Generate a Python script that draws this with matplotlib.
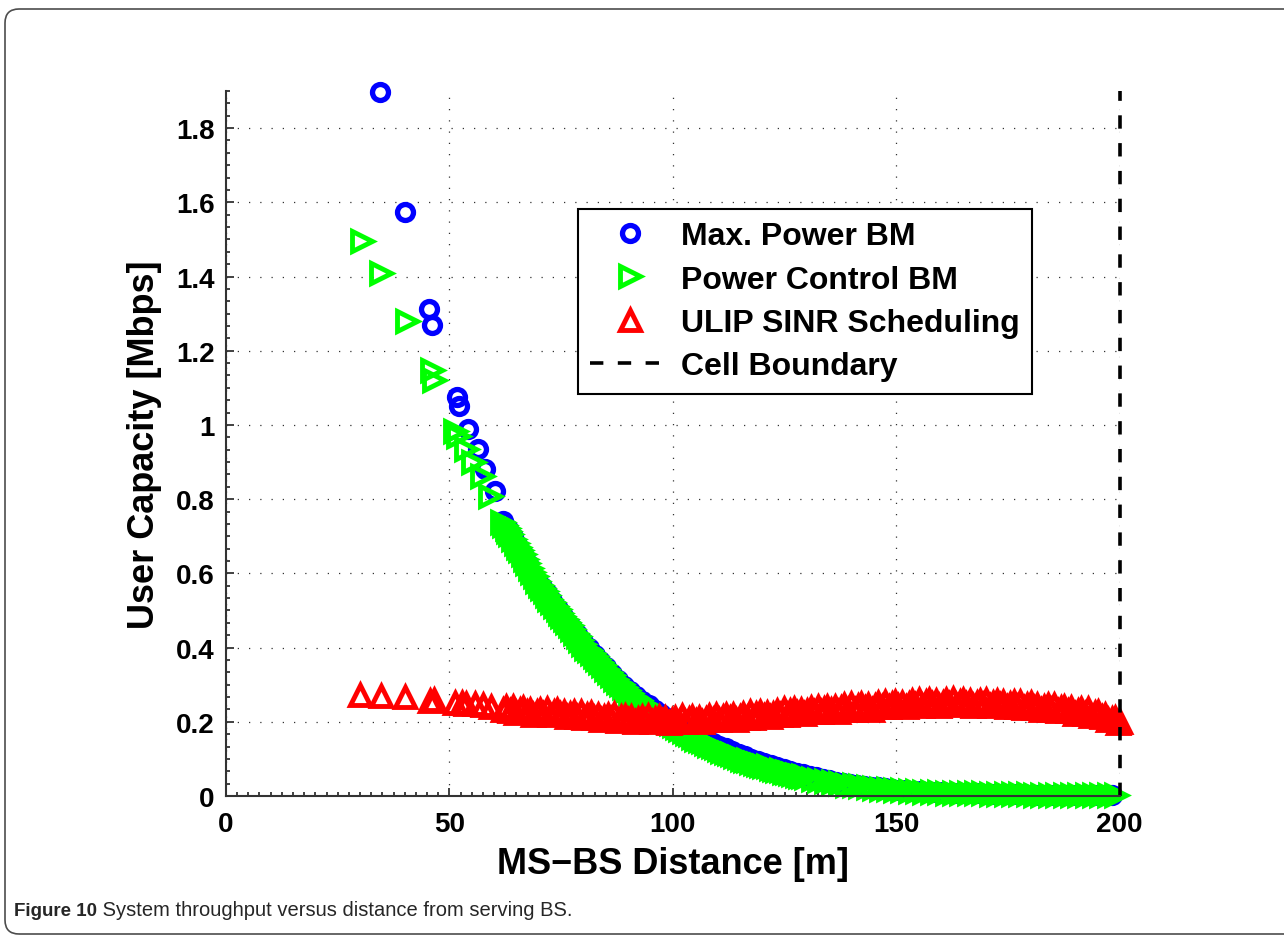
import matplotlib
matplotlib.use('Agg')
import matplotlib.pyplot as plt
import matplotlib.patches as mpatches
from matplotlib.ticker import MultipleLocator

# Max. Power BM (blue circles)
dist_mp = [34.5, 40.0, 45.5, 46.2, 51.6, 52.2, 54.2, 56.4, 57.9, 60.2,
           62.0, 63.1, 64.3, 65.2, 66.4, 67.5, 68.4, 69.6, 70.8, 71.9,
           72.9, 74.2, 75.4, 76.6, 77.5, 78.6, 79.9, 81.2, 82.5, 83.7,
           85.0, 86.4, 87.8, 89.1, 90.5, 91.8, 93.2, 94.6, 96.0, 97.3,
           98.7, 100.2, 101.6, 103.1, 104.5, 106.0, 107.4, 108.9, 110.3, 111.8,
           113.2, 114.7, 116.1, 117.6, 119.0, 120.5, 121.9, 123.4, 124.8, 126.3,
           127.7, 129.2, 130.6, 132.1, 133.5, 135.0, 136.6, 138.1, 139.7, 141.2,
           142.8, 144.3, 145.9, 147.4, 149.0, 150.6, 152.2, 153.9, 155.5, 157.2,
           158.8, 160.5, 162.1, 163.8, 165.4, 167.1, 168.7, 170.4, 172.0, 173.7,
           175.3, 177.0, 178.6, 180.3, 181.9, 183.6, 185.2, 186.9, 188.5, 190.2,
           191.8, 193.5, 195.1, 196.8, 198.2]
cap_mp = [1.897, 1.573, 1.313, 1.270, 1.075, 1.052, 0.989, 0.935, 0.881, 0.823,
          0.742, 0.720, 0.698, 0.676, 0.652, 0.626, 0.594, 0.580, 0.562, 0.546,
          0.526, 0.503, 0.486, 0.464, 0.452, 0.436, 0.414, 0.398, 0.380, 0.364,
          0.347, 0.329, 0.312, 0.297, 0.283, 0.270, 0.257, 0.244, 0.232, 0.221,
          0.210, 0.200, 0.190, 0.180, 0.170, 0.161, 0.153, 0.144, 0.136, 0.129,
          0.121, 0.114, 0.107, 0.100, 0.094, 0.089, 0.084, 0.078, 0.073, 0.068,
          0.063, 0.058, 0.054, 0.050, 0.046, 0.042, 0.039, 0.036, 0.033, 0.030,
          0.027, 0.025, 0.023, 0.021, 0.019, 0.017, 0.015, 0.014, 0.013, 0.012,
          0.011, 0.010, 0.009, 0.008, 0.008, 0.007, 0.007, 0.006, 0.006, 0.006,
          0.005, 0.005, 0.005, 0.004, 0.004, 0.004, 0.004, 0.004, 0.003, 0.003,
          0.003, 0.003, 0.003, 0.003, 0.003]

# Power Control BM (green right triangles)
dist_pc = [30.4, 34.8, 40.4, 46.1, 46.5, 51.2, 52.0, 53.8, 55.3, 57.2, 59.1,
           61.7, 62.8, 63.6, 64.8, 65.9, 66.9, 68.0, 69.1, 70.2, 71.4,
           72.4, 73.6, 74.8, 75.9, 77.0, 78.1, 79.3, 80.6, 81.9, 83.1,
           84.4, 85.7, 87.1, 88.4, 89.8, 91.2, 92.5, 93.9, 95.3, 96.7,
           98.0, 99.5, 100.9, 102.4, 103.8, 105.3, 106.7, 108.2, 109.6, 111.1,
           112.5, 114.0, 115.4, 116.9, 118.3, 119.8, 121.2, 122.7, 124.1, 125.6,
           127.0, 128.5, 129.9, 131.4, 132.8, 134.3, 135.8, 137.4, 138.9, 140.5,
           142.0, 143.6, 145.1, 146.7, 148.2, 149.8, 151.4, 153.0, 154.7, 156.3,
           158.0, 159.6, 161.3, 162.9, 164.6, 166.2, 167.9, 169.5, 171.2, 172.8,
           174.5, 176.1, 177.8, 179.4, 181.1, 182.7, 184.4, 186.0, 187.7, 189.3,
           191.0, 192.6, 194.3, 195.9, 197.6, 199.2,
           62.2, 63.2, 64.2, 65.3, 66.4, 67.4, 68.5, 69.6, 70.8, 71.9,
           73.0, 74.2, 75.3, 76.4, 77.5, 78.7, 79.9, 81.2, 82.5, 83.7,
           85.0, 86.4, 87.7, 89.1, 90.5, 91.8, 93.2, 94.6, 96.0, 97.3,
           98.7, 100.2, 101.6, 103.1, 104.5, 106.0, 107.4, 108.9, 110.3, 111.8,
           113.2, 114.7, 116.1, 117.6, 119.0, 120.5, 121.9, 123.4, 124.8, 126.3,
           127.7, 129.2]
cap_pc = [1.497, 1.410, 1.280, 1.148, 1.121, 0.985, 0.971, 0.935, 0.899, 0.863, 0.809,
          0.738, 0.722, 0.705, 0.682, 0.662, 0.640, 0.615, 0.592, 0.568, 0.553,
          0.532, 0.512, 0.494, 0.478, 0.460, 0.440, 0.420, 0.400, 0.386, 0.368,
          0.352, 0.334, 0.316, 0.301, 0.286, 0.270, 0.258, 0.244, 0.232, 0.220,
          0.208, 0.196, 0.186, 0.174, 0.166, 0.154, 0.148, 0.138, 0.131, 0.121,
          0.116, 0.108, 0.101, 0.096, 0.089, 0.084, 0.080, 0.073, 0.069, 0.064,
          0.060, 0.055, 0.051, 0.047, 0.044, 0.040, 0.037, 0.034, 0.031, 0.029,
          0.026, 0.024, 0.022, 0.020, 0.018, 0.017, 0.015, 0.014, 0.013, 0.012,
          0.011, 0.010, 0.009, 0.009, 0.008, 0.008, 0.007, 0.007, 0.006, 0.006,
          0.006, 0.005, 0.005, 0.005, 0.004, 0.004, 0.004, 0.004, 0.004, 0.003,
          0.003, 0.003, 0.003, 0.003, 0.003, 0.003,
          0.730, 0.714, 0.694, 0.672, 0.651, 0.628, 0.604, 0.580, 0.561, 0.543,
          0.522, 0.503, 0.486, 0.469, 0.450, 0.430, 0.410, 0.393, 0.377, 0.360,
          0.343, 0.325, 0.308, 0.293, 0.278, 0.264, 0.251, 0.238, 0.226, 0.214,
          0.202, 0.191, 0.180, 0.170, 0.160, 0.151, 0.143, 0.134, 0.126, 0.118,
          0.112, 0.104, 0.098, 0.092, 0.086, 0.082, 0.076, 0.071, 0.066, 0.062,
          0.057, 0.053]

# ULIP SINR Scheduling (red up triangles)
dist_ulip = [30.0, 34.7, 40.0, 45.6, 46.6, 51.2, 52.8, 53.8, 55.7, 57.6, 59.4,
             62.0, 62.7, 63.5, 64.2, 65.0, 65.8, 66.5, 67.3, 68.0, 68.8,
             69.5, 70.3, 71.0, 71.8, 72.6, 73.3, 74.1, 74.8, 75.6, 76.3,
             77.1, 77.9, 78.6, 79.4, 80.1, 80.9, 81.6, 82.4, 83.2, 83.9,
             84.7, 85.4, 86.2, 86.9, 87.7, 88.5, 89.2, 90.0, 90.7, 91.5,
             92.2, 93.0, 93.8, 94.5, 95.3, 96.0, 96.8, 97.5, 98.3, 99.1,
             99.8, 100.6, 101.3, 102.1, 102.8, 103.6, 104.4, 105.1, 105.9, 106.6,
             107.4, 108.1, 108.9, 109.7, 110.4, 111.2, 111.9, 112.7, 113.4, 114.2,
             115.0, 115.7, 116.5, 117.2, 118.0, 118.7, 119.5, 120.3, 121.0, 121.8,
             122.5, 123.3, 124.0, 124.8, 125.6, 126.3, 127.1, 127.8, 128.6, 129.3,
             130.1, 130.9, 131.6, 132.4, 133.1, 133.9, 134.6, 135.4, 136.2, 136.9,
             137.7, 138.4, 139.2, 139.9, 140.7, 141.5, 142.2, 143.0, 143.7, 144.5,
             145.2, 146.0, 146.8, 147.5, 148.3, 149.0, 149.8, 150.5, 151.3, 152.1,
             152.8, 153.6, 154.3, 155.1, 155.8, 156.6, 157.4, 158.1, 158.9, 159.6,
             160.4, 161.1, 161.9, 162.7, 163.4, 164.2, 164.9, 165.7, 166.4, 167.2,
             168.0, 168.7, 169.5, 170.2, 171.0, 171.7, 172.5, 173.3, 174.0, 174.8,
             175.5, 176.3, 177.0, 177.8, 178.6, 179.3, 180.1, 180.8, 181.6, 182.3,
             183.1, 183.9, 184.6, 185.4, 186.1, 186.9, 187.6, 188.4, 189.2, 189.9,
             190.7, 191.4, 192.2, 192.9, 193.7, 194.5, 195.2, 196.0, 196.7, 197.5,
             198.2, 199.0, 199.6, 200.0]
cap_ulip = [0.272, 0.270, 0.266, 0.257, 0.259, 0.252, 0.250, 0.248, 0.248, 0.245, 0.239,
            0.233, 0.239, 0.228, 0.241, 0.225, 0.233, 0.237, 0.226, 0.233, 0.219,
            0.226, 0.233, 0.221, 0.235, 0.218, 0.227, 0.231, 0.220, 0.227, 0.214,
            0.220, 0.226, 0.214, 0.227, 0.210, 0.218, 0.223, 0.211, 0.218, 0.205,
            0.212, 0.218, 0.207, 0.220, 0.203, 0.212, 0.216, 0.205, 0.212, 0.199,
            0.207, 0.213, 0.202, 0.215, 0.199, 0.208, 0.212, 0.201, 0.209, 0.196,
            0.204, 0.211, 0.200, 0.215, 0.199, 0.208, 0.214, 0.203, 0.211, 0.199,
            0.207, 0.215, 0.205, 0.219, 0.204, 0.214, 0.219, 0.209, 0.217, 0.205,
            0.214, 0.221, 0.211, 0.226, 0.211, 0.220, 0.226, 0.216, 0.225, 0.212,
            0.221, 0.229, 0.219, 0.234, 0.218, 0.228, 0.234, 0.224, 0.232, 0.220,
            0.229, 0.237, 0.226, 0.241, 0.226, 0.235, 0.241, 0.231, 0.239, 0.227,
            0.236, 0.244, 0.233, 0.248, 0.232, 0.242, 0.248, 0.237, 0.246, 0.233,
            0.242, 0.250, 0.239, 0.254, 0.239, 0.248, 0.254, 0.243, 0.252, 0.239,
            0.247, 0.255, 0.244, 0.259, 0.243, 0.253, 0.258, 0.247, 0.256, 0.243,
            0.251, 0.258, 0.247, 0.261, 0.245, 0.254, 0.259, 0.248, 0.256, 0.243,
            0.250, 0.257, 0.246, 0.260, 0.243, 0.252, 0.257, 0.245, 0.253, 0.240,
            0.247, 0.253, 0.241, 0.254, 0.237, 0.246, 0.250, 0.238, 0.246, 0.232,
            0.239, 0.245, 0.233, 0.246, 0.229, 0.237, 0.241, 0.229, 0.236, 0.222,
            0.228, 0.234, 0.221, 0.234, 0.216, 0.223, 0.226, 0.213, 0.219, 0.204,
            0.208, 0.211, 0.197, 0.199]

cell_boundary = 200
x_ticks = [0, 50, 100, 150, 200]
y_ticks = [0, 0.2, 0.4, 0.6, 0.8, 1.0, 1.2, 1.4, 1.6, 1.8]
y_labels = ['0', '0.2', '0.4', '0.6', '0.8', '1', '1.2', '1.4', '1.6', '1.8']

plt.rcParams['font.family'] = ['Liberation Sans', 'DejaVu Sans']
plt.rcParams['font.weight'] = 'bold'

fig = plt.figure(figsize=(12.84, 9.37), dpi=100)
ax = fig.add_axes([0.176, 0.1494, 0.696, 0.7524])

ax.plot(dist_mp, cap_mp, 'o', ls='none', mfc='none', mec=(0, 0, 1), ms=11.5, mew=3.8,
        clip_on=False, label='Max. Power BM')
ax.plot(dist_pc, cap_pc, '>', ls='none', mfc='none', mec=(0, 1, 0), ms=15, mew=3.5,
        clip_on=False, label='Power Control BM')
ax.plot(dist_ulip, cap_ulip, '^', ls='none', mfc='none', mec=(1, 0, 0), ms=15, mew=3.5,
        clip_on=False, label='ULIP SINR Scheduling')
ax.plot([cell_boundary, cell_boundary], [0, 1.9], color='k', lw=2.6, dashes=(3.7, 4),
        clip_on=False, label='Cell Boundary')

ax.set_xlim(0, 200)
ax.set_ylim(0, 1.9)
ax.set_xticks(x_ticks)
ax.set_yticks(y_ticks, y_labels)
ax.xaxis.set_minor_locator(MultipleLocator(2.5))
ax.yaxis.set_minor_locator(MultipleLocator(0.2 / 6))
ax.tick_params(which='both', direction='in', top=False, right=False,
               labelsize=20, width=1.3, color='0.2')
ax.tick_params(which='major', length=6, pad=8)
ax.tick_params(which='major', axis='x', pad=11)
ax.tick_params(which='minor', length=3)
for side in ['top', 'right']:
    ax.spines[side].set_visible(False)
for side in ['left', 'bottom']:
    ax.spines[side].set_linewidth(1.5)
    ax.spines[side].set_color('0.2')
ax.grid(True, which='major', color='0.2', lw=0.9, linestyle=(0, (1, 8)))
ax.set_axisbelow(True)

ax.set_xlabel('MS\u2212BS Distance [m]', fontsize=26, fontweight='bold', labelpad=6)
ax.set_ylabel('User Capacity [Mbps]', fontsize=26, fontweight='bold', labelpad=10)

leg = ax.legend(loc='upper left', bbox_to_anchor=(0.3937, 0.8326), borderaxespad=0,
                fontsize=23, frameon=True, fancybox=False, edgecolor='k',
                handlelength=2.5, handletextpad=0.35, labelspacing=0.42,
                borderpad=0.38)
leg.get_frame().set_linewidth(1.5)
leg.get_frame().set_alpha(1)
for t in leg.get_texts():
    t.set_fontweight('bold')

# journal figure frame and caption
frame = mpatches.FancyBboxPatch((5, 2), 1400, 925,
                                boxstyle='round,pad=0,rounding_size=14',
                                transform=None, fill=False, edgecolor='0.3', lw=1.2)
fig.add_artist(frame)
cap1 = fig.text(14 / 1284, 1 - 916 / 937, 'Figure 10', fontsize=13.5, fontweight='bold',
                color='0.15', va='baseline')
ax.annotate(' System throughput versus distance from serving BS.', xy=(1, 0),
            xycoords=cap1, va='bottom', ha='left', fontsize=14.5, fontweight='normal',
            color='0.15', annotation_clip=False)

fig.savefig('out.png', dpi=100)
